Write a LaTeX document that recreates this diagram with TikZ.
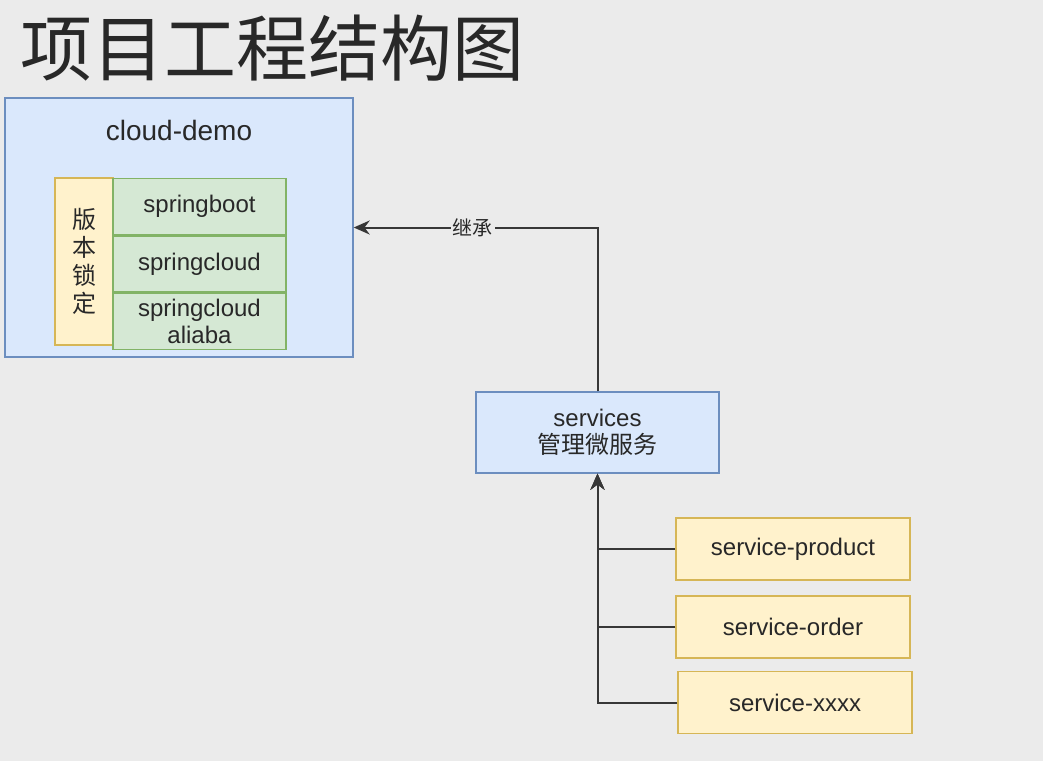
\documentclass[tikz,border=0pt]{standalone}
\usepackage{fontspec}
\setmainfont{Liberation Sans}
\newfontfamily\cjk{Noto Sans CJK SC}
\usepackage{xcolor}
\definecolor{bggray}{RGB}{235,235,235}
\definecolor{txtgray}{RGB}{40,40,40}
\definecolor{lineg}{RGB}{55,55,55}
\definecolor{dioblue}{RGB}{218,232,252}
\definecolor{diobluel}{RGB}{108,142,191}
\definecolor{dioyellow}{RGB}{255,242,204}
\definecolor{dioyellowl}{RGB}{214,182,86}
\definecolor{diogreen}{RGB}{213,232,212}
\definecolor{diogreenl}{RGB}{130,179,102}
\usetikzlibrary{arrows.meta,positioning}

\begin{document}
\begin{tikzpicture}[x=0.5pt,y=-0.5pt,
  box/.style={draw,rectangle,inner sep=0pt,align=center,text=txtgray,line width=0.7pt,font=\fontsize{12}{13.5}\selectfont},
  bluebox/.style={box,fill=dioblue,draw=diobluel},
  lockbox/.style={box,fill=dioyellow,draw=dioyellowl,minimum width=29pt,minimum height=83.5pt},
  verbox/.style={box,fill=diogreen,draw=diogreenl,minimum width=86.5pt,minimum height=28pt},
  modbox/.style={box,fill=dioyellow,draw=dioyellowl,minimum width=117pt,minimum height=31pt},
  link/.style={draw=lineg,line width=1pt,-{Stealth[length=8pt,width=7pt]}}]
  % Background
  \fill[bggray] (0,0) rectangle (1043,761);
  \useasboundingbox (0,0) rectangle (1043,761);
  % Title
  \node[text=txtgray,font=\cjk\fontsize{36}{40}\selectfont] (title) at (272,48) {项目工程结构图};
  % Parent project
  \node[bluebox,minimum width=174pt,minimum height=129.5pt] (demo) at (179,227.5) {};
  \node[font=\fontsize{14}{16}\selectfont,text=txtgray] (demolbl) at (179,130) {cloud-demo};
  \node[lockbox,font=\cjk\fontsize{12}{14}\selectfont] (lock) at (84,261.5) {版\\本\\锁\\定};
  \node[verbox] (boot) at (199.5,206.5) {springboot};
  \node[verbox,below=0pt of boot] (cloud) {springcloud};
  \node[verbox,below=0pt of cloud] (alibaba) {springcloud\\aliaba};
  % Services
  \node[bluebox,minimum width=121.5pt,minimum height=40.5pt] (svc) at (597.5,432.5) {services\\{\cjk 管理微服务}};
  \draw[link] (svc.north) |- (demo.east)
    node[pos=0.756,fill=bggray,inner sep=1pt,text=txtgray,font=\cjk\fontsize{10}{12}\selectfont] (inherit) {继承};
  % Modules
  \node[modbox] (prod) at (793,549) {service-product};
  \node[modbox] (order) at (793,627) {service-order};
  \node[modbox] (xxxx) at (795,702.5) {service-xxxx};
  \foreach \m in {prod,order,xxxx}
    \draw[link] (\m.west) -| (svc.south);
\end{tikzpicture}
\end{document}
